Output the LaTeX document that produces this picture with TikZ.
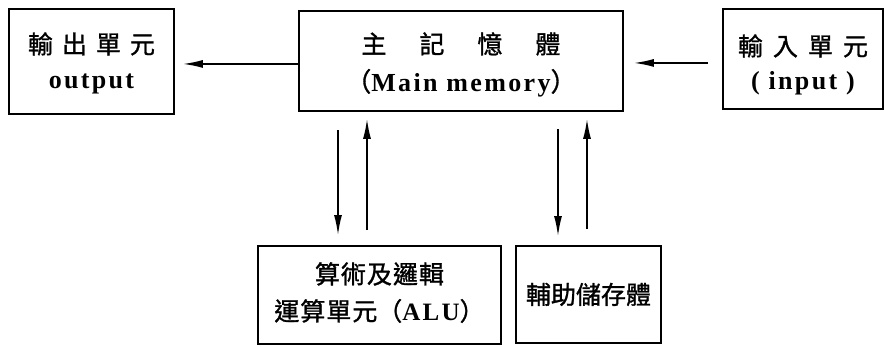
\documentclass[tikz,border=0pt]{standalone}
\usepackage{fontspec}
\setmainfont{Liberation Serif}
\newfontfamily\cjk{Noto Sans CJK TC}[FakeBold=1.2]
\newfontfamily\lat{Liberation Serif Bold}[LetterSpace=9]
\usetikzlibrary{arrows.meta}
\begin{document}
\begin{tikzpicture}[x=1pt,y=-1pt,
  box/.style={draw, line width=1.9pt, inner sep=0pt, anchor=north west},
  ctxt/.style={inner sep=0pt, font=\cjk\fontsize{25}{28}\selectfont},
  ltxt/.style={inner sep=0pt, font=\lat\fontsize{26}{28}\selectfont},
  arr/.style={line width=1.6pt, -{Latex[length=20pt,width=8pt]}}]
\useasboundingbox (0,0) rectangle (884,346);
% boxes
\node[box, minimum width=165pt, minimum height=105pt] (out) at (8,8) {};
\node[box, minimum width=324pt, minimum height=100pt] (main) at (298,10) {};
\node[box, minimum width=160pt, minimum height=100pt] (in) at (722,8) {};
\node[box, minimum width=243pt, minimum height=98pt] (alu) at (257,245) {};
\node[box, minimum width=145pt, minimum height=97pt] (aux) at (515,245) {};
% texts
\node[ctxt] (out1) at ([yshift=17.5pt]out.center) {輸\hspace{9pt}出\hspace{9pt}單\hspace{9pt}元};
\node[ltxt] (out2) at ([yshift=-22.5pt]out.center) {output};
\node[ctxt] (main1) at ([yshift=17pt]main.center) {主\hspace{33pt}記\hspace{33pt}憶\hspace{33pt}體};
\node[ltxt] (main2) at ([yshift=-22pt]main.center) {{\cjk （}Main memory{\cjk ）}};
\node[ctxt] (in1) at ([yshift=13pt]in.center) {輸\hspace{10pt}入\hspace{10pt}單\hspace{10pt}元};
\node[ltxt] (in2) at ([yshift=-24pt]in.center) {( input )};
\node[ctxt] (alu1) at ([yshift=21pt]alu.center) {算\hspace{1pt}術\hspace{1pt}及\hspace{1pt}邏\hspace{1pt}輯};
\node[ctxt] (alu2) at ([yshift=-16pt]alu.center) {運\hspace{1pt}算\hspace{1pt}單\hspace{1pt}元（{\lat ALU}）};
\node[ctxt] (aux1) at (aux.center) {輔助儲存體};
% arrows
\draw[arr] ([yshift=-3pt]main.west) -- ([xshift=8pt,yshift=-2.5pt]out.east);
\draw[arr] ([xshift=-14pt,yshift=-4pt]in.west) -- ([xshift=10pt,yshift=-2pt]main.east);
\draw[arr] ([xshift=40pt,yshift=-18pt]main.south west) -- ([xshift=81pt,yshift=10pt]alu.north west);
\draw[arr] ([xshift=110pt,yshift=15pt]alu.north west) -- ([xshift=69pt,yshift=-7pt]main.south west);
\draw[arr] ([xshift=260pt,yshift=-17pt]main.south west) -- ([xshift=43pt,yshift=9pt]aux.north west);
\draw[arr] ([xshift=72pt,yshift=16pt]aux.north west) -- ([xshift=289pt,yshift=-7pt]main.south west);
\end{tikzpicture}
\end{document}
